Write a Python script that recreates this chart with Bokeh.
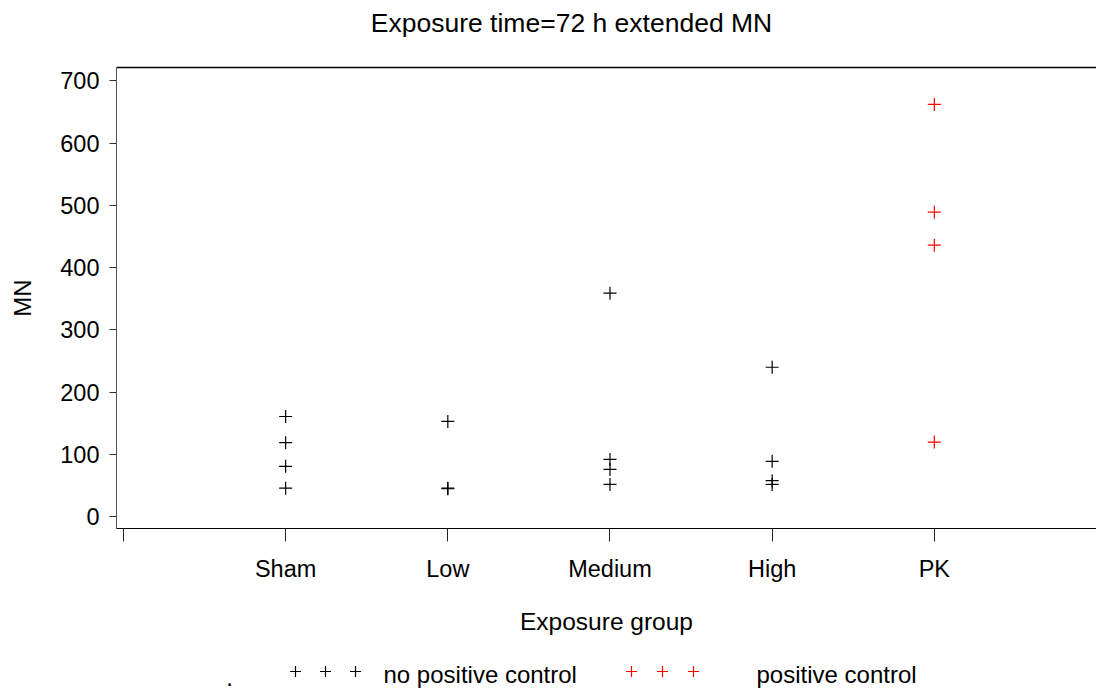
from bokeh.plotting import figure
from bokeh.layouts import column
from bokeh.models import Range1d, FixedTicker, LinearAxis, ColumnDataSource
from bokeh.core.properties import value
from bokeh.embed import file_html
from bokeh.resources import INLINE

# Exposure groups and MN counts per group
groups = ["Sham", "Low", "Medium", "High", "PK"]
positive_control = [False, False, False, False, True]
sham = [161, 119, 81, 46]
low = [153, 46, 45]
medium = [359, 92, 76, 52]
high = [240, 89, 58, 52]
pk = [662, 489, 436, 120]
values = [sham, low, medium, high, pk]

y_ticks = [0, 100, 200, 300, 400, 500, 600, 700]
legend_labels = ["no positive control", "positive control"]

FONT = "Liberation Sans"
W = 1096
LEFT = 116                      # width of the left border (y axis area)
HEAD_H, MAIN_H, LEG_H = 50, 600, 41
TEXT_SHIFT = 10                 # baseline correction for text glyphs


def strip(height, top):
    """A bare figure whose data space is the canvas pixel grid (y down).
    Its frame lines up with the main plot frame inside the column."""
    f = figure(width=W, height=height, output_backend="svg", toolbar_location=None,
               x_range=Range1d(LEFT, W), y_range=Range1d(top + height, top),
               x_axis_location=None, y_axis_location=None,
               min_border=0, title=None)
    f.outline_line_color = None
    f.background_fill_color = "white"
    f.border_fill_color = "white"
    f.xgrid.visible = False
    f.ygrid.visible = False
    return f


# ---- title strip
head = strip(HEAD_H, 0)
head.text(x=[571], y=[32 - TEXT_SHIFT], text=["Exposure time=72 h extended MN"],
          text_font=value(FONT), text_font_size="26.5px", text_color="black",
          text_align="center", text_baseline="alphabetic")

# ---- main scatter
xs, ys, colors = [], [], []
for i, (vals, pc) in enumerate(zip(values, positive_control)):
    for v in vals:
        xs.append(i + 1)
        ys.append(v)
        colors.append("#ff0000" if pc else "#000000")
src = ColumnDataSource(data=dict(x=xs, y=ys, color=colors))

p = figure(
    width=W, height=MAIN_H,
    output_backend="svg", toolbar_location=None,
    x_range=Range1d(-0.043, 6.0), y_range=Range1d(-18.8, 721.2),
    min_border_left=LEFT, min_border_right=0,
    min_border_top=17, min_border_bottom=122,
    title=None,
)
p.background_fill_color = "white"
p.border_fill_color = "white"
p.outline_line_color = None
p.xgrid.visible = False
p.ygrid.visible = False

p.scatter("x", "y", source=src, marker="cross", size=13,
          line_color="color", line_width=1.2)

# y axis
ya = p.yaxis[0]
ya.ticker = FixedTicker(ticks=y_ticks)
ya.major_tick_out = 7
ya.major_tick_in = 0
ya.minor_tick_line_color = None
ya.axis_line_color = "#555555"
ya.major_tick_line_color = "#333333"
ya.major_label_text_font = FONT
ya.major_label_text_font_size = "23.5px"
ya.major_label_text_color = "black"
ya.major_label_standoff = 10
ya.axis_label = "MN"
ya.axis_label_text_font = FONT
ya.axis_label_text_font_size = "24px"
ya.axis_label_text_font_style = "normal"
ya.axis_label_text_color = "black"
ya.axis_label_standoff = 21

# x axis with group names
xa = p.xaxis[0]
xa.ticker = FixedTicker(ticks=[0, 1, 2, 3, 4, 5])
xa.major_label_overrides = {0: ""} | {i + 1: g for i, g in enumerate(groups)}
xa.major_tick_out = 13
xa.major_tick_in = 0
xa.minor_tick_line_color = None
xa.axis_line_color = "black"
xa.major_tick_line_color = "#222222"
xa.major_label_text_font = FONT
xa.major_label_text_font_size = "23.5px"
xa.major_label_text_color = "black"
xa.major_label_standoff = 14
xa.axis_label = "Exposure group"
xa.axis_label_text_font = FONT
xa.axis_label_text_font_size = "24.5px"
xa.axis_label_text_font_style = "normal"
xa.axis_label_text_color = "black"
xa.axis_label_standoff = 23

# top border line
top = LinearAxis(ticker=FixedTicker(ticks=[]), axis_line_color="black",
                 axis_line_width=1.5,
                 major_tick_line_color=None, minor_tick_line_color=None,
                 major_label_text_font_size="0px")
p.add_layout(top, "above")

# ---- legend strip
leg = strip(LEG_H, HEAD_H + MAIN_H)
leg.text(x=[229], y=[687 - TEXT_SHIFT], text=["."], text_font=value(FONT),
         text_font_size="24px", text_color="black", text_align="center",
         text_baseline="alphabetic")
leg.scatter(x=[295, 325, 355], y=[671] * 3, marker="cross", size=11,
            line_color="black", line_width=1.2)
leg.scatter(x=[631, 662, 693], y=[671] * 3, marker="cross", size=11,
            line_color="#ff0000", line_width=1.2)
leg.text(x=[383, 756], y=[684 - TEXT_SHIFT] * 2, text=legend_labels,
         text_font=value(FONT), text_font_size="24px", text_color="black",
         text_align="left", text_baseline="alphabetic")

layout = column(head, p, leg, spacing=0)
open("out.html", "w").write(file_html(layout, INLINE))
